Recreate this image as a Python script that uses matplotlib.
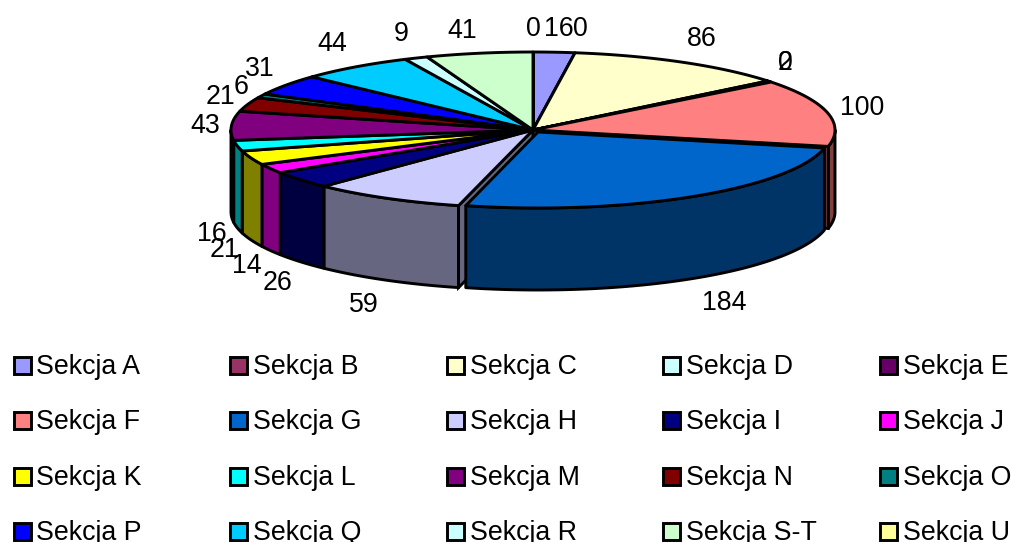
import numpy as np
import matplotlib
matplotlib.use("Agg")
import matplotlib.pyplot as plt
from matplotlib.patches import Polygon, Rectangle

sections = ["Sekcja A", "Sekcja B", "Sekcja C", "Sekcja D", "Sekcja E",
            "Sekcja F", "Sekcja G", "Sekcja H", "Sekcja I", "Sekcja J",
            "Sekcja K", "Sekcja L", "Sekcja M", "Sekcja N", "Sekcja O",
            "Sekcja P", "Sekcja Q", "Sekcja R", "Sekcja S-T", "Sekcja U"]
values = [16, 0, 86, 2, 0, 100, 184, 59, 26, 14, 21, 16, 43, 21, 6, 31, 44, 9, 41, 0]
colors = ["#9999FF", "#993366", "#FFFFCC", "#CCFFFF", "#660066",
          "#FF8080", "#0066CC", "#CCCCFF", "#000080", "#FF00FF",
          "#FFFF00", "#00FFFF", "#800080", "#800000", "#008080",
          "#0000FF", "#00CCFF", "#CCFFFF", "#CCFFCC", "#FFFF99"]

# label centres in pixels, same order as values
label_x = [559, 580, 702, 785, 785, 862, 724, 364, 277, 247, 224, 212, 205, 220, 241, 260, 332, 401, 462, 533]
label_y = [29, 29, 39, 63, 63, 108, 303, 305, 283, 266, 250, 234, 126, 97, 87, 69, 44, 34, 31, 29]

plt.rcParams["font.family"] = ["Liberation Sans", "DejaVu Sans"]
FONT = 19.3
LW = 2.1

# pie geometry in pixels
cx, cy, rx, ry = 533, 130, 302, 78
depth = 82
# the G slice is pulled out and slightly smaller
gx, gy, grx, gry = 538, 132, 293, 76


def rim(a0, a1, x0, y0, a, b):
    t = np.radians(np.linspace(a0, a1, max(int(abs(a1 - a0)) * 2, 2)))
    return np.column_stack([x0 + a * np.sin(t), y0 - b * np.cos(t)])


def dark(hex_color):
    return tuple(c * 0.5 for c in matplotlib.colors.to_rgb(hex_color))


def draw_side(ax, a0, a1, col, x0, y0, a, b, z):
    # outer wall only exists on the front half of the pie
    lo, hi = max(a0, 90), min(a1, 270)
    if hi <= lo:
        return
    top = rim(lo, hi, x0, y0, a, b)
    bottom = top[::-1] + [0, depth]
    ax.add_patch(Polygon(np.vstack([top, bottom]), closed=True, fc=dark(col),
                         ec="black", lw=LW, zorder=z, joinstyle="round"))


def draw_top(ax, a0, a1, col, x0, y0, a, b, z):
    pts = np.vstack([[x0, y0], rim(a0, a1, x0, y0, a, b)])
    ax.add_patch(Polygon(pts, closed=True, fc=col, ec="black", lw=LW, zorder=z,
                         joinstyle="round"))


def draw_wall(ax, angle, col, z):
    # cut face of a slice, seen in the gap next to the pulled-out slice
    edge = rim(angle, angle, cx, cy, rx, ry)[0]
    pts = [[cx, cy], edge, edge + [0, depth], [cx, cy + depth]]
    ax.add_patch(Polygon(pts, closed=True, fc=dark(col), ec="black", lw=LW, zorder=z))


fig = plt.figure(figsize=(10.11, 5.42), dpi=100)
ax = fig.add_axes([0, 0, 1, 1])
ax.set_xlim(0, 1011)
ax.set_ylim(542, 0)
ax.axis("off")

edges = np.concatenate([[0], np.cumsum(values)]) / np.sum(values) * 360

for i, col in enumerate(colors):
    if sections[i] == "Sekcja G":
        continue
    draw_side(ax, edges[i], edges[i + 1], col, cx, cy, rx, ry, 2)
    draw_top(ax, edges[i], edges[i + 1], col, cx, cy, rx, ry, 3)

g = sections.index("Sekcja G")
draw_wall(ax, edges[g], colors[g - 1], 2.5)
draw_wall(ax, edges[g + 1], colors[g + 1], 2.5)

draw_side(ax, edges[g], edges[g + 1], colors[g], gx, gy, grx, gry, 4)
draw_top(ax, edges[g], edges[g + 1], colors[g], gx, gy, grx, gry, 5)

for v, x, y in zip(values, label_x, label_y):
    ax.text(x, y, str(v), fontsize=FONT, ha="center", va="center", color="black", zorder=6)

# legend, 5 columns filled row by row
for i, (name, col) in enumerate(zip(sections, colors)):
    row, column = divmod(i, 5)
    x = 13.5 + column * 216.6
    y = 366 + row * 55.4
    ax.add_patch(Rectangle((x, y - 9), 17, 17, fc=col, ec="black", lw=LW, zorder=6))
    ax.text(x + 23, y + 1, name, fontsize=FONT, ha="left", va="center", color="black", zorder=6)

fig.savefig("out.png", dpi=100)
